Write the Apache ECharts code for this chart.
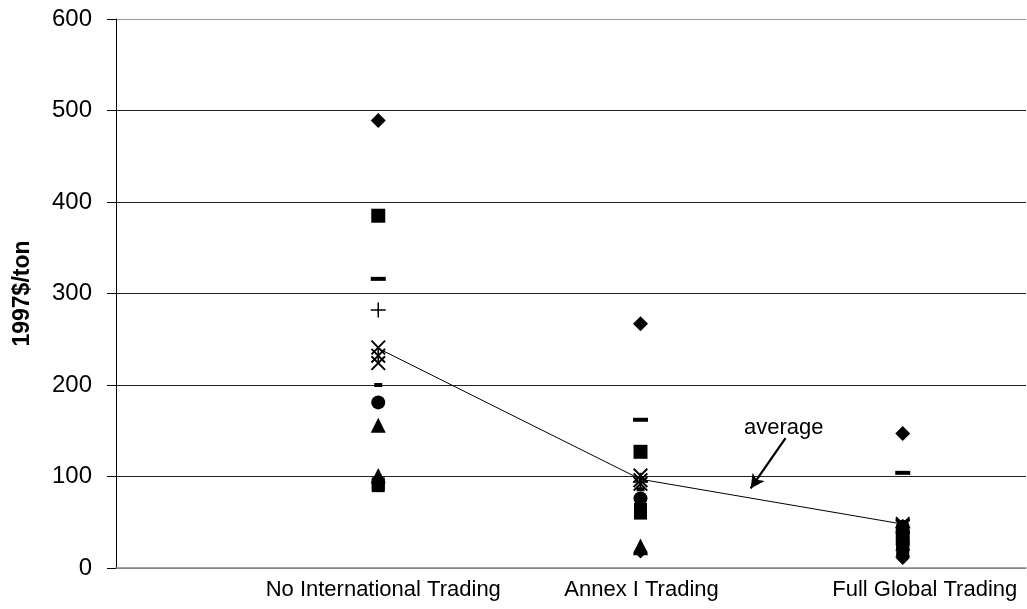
<!DOCTYPE html>
<html>
<head>
<meta charset="utf-8">
<script src="https://cdn.jsdelivr.net/npm/echarts@6/dist/echarts.min.js"></script>
<style>html,body{margin:0;padding:0;background:#fff}#c{width:1027px;height:609px}</style>
</head>
<body>
<div id="c"></div>
<script>
// ---- data ----
const regimes = ['No International Trading', 'Annex I Trading', 'Full Global Trading'];
const regimeX = [1, 2, 3];
const yTicks = [0, 100, 200, 300, 400, 500, 600];
const diamondA = [489, 267, 147];
const squareA = [385, 127, 32];
const dashA = [316, 162, 104];
const plusA = [282, 94, 44];
const crossA = [241, 101, 48];
const starA = [232, 96, 45];
const crossB = [224, 92, 46];
const shortDashA = [200, 86, 40];
const circleA = [181, 76, 45];
const triangleA = [156, 24, 20];
const triangleB = [101, 22, 27];
const squareB = [90, 64, 26];
const squareC = [92, 60, 21];
const diamondB = [92, 18, 11];
const average = [240, 97, 48];
const arrowFrom = [2.553, 142];
const arrowTo = [2.42, 87];
const avgLabelAt = [2.546, 153];

// ---- rendering ----
const FONT = "'Liberation Sans', Arial, sans-serif";
const pts = vals => vals.map((v, i) => [regimeX[i], v]);
const X_PATH = 'path://M0,0.9 L0.9,0 L10,9.1 L9.1,10 Z M9.1,0 L10,0.9 L0.9,10 L0,9.1 Z';
const STAR_PATH = 'path://M0,0.9 L0.9,0 L10,9.1 L9.1,10 Z M9.1,0 L10,0.9 L0.9,10 L0,9.1 Z M4.45,0 H5.55 V10 H4.45 Z';
const PLUS_PATH = 'path://M0,4.5 H10 V5.5 H0 Z M4.5,0 H5.5 V10 H4.5 Z';

function sc(name, vals, symbol, size, z) {
  return { name, type: 'scatter', data: pts(vals), symbol, symbolSize: size,
           itemStyle: { color: '#000', opacity: 1 }, z: z || 3, silent: true, animation: false };
}

const chart = echarts.init(document.getElementById('c'));
chart.setOption({
  animation: false,
  grid: { left: 116, right: 1, top: 19, bottom: 41, containLabel: false, outerBoundsMode: 'none' },
  xAxis: {
    type: 'value', min: 0, max: 3.47, interval: 1,
    axisLine: { show: true, lineStyle: { color: '#888', width: 1.5 } },
    axisTick: { show: false },
    splitLine: { show: false },
    axisLabel: {
      showMaxLabel: false, margin: 11, color: '#000', fontFamily: FONT, fontSize: 22,
      formatter: v => {
        const i = regimeX.indexOf(Math.round(v));
        if (i < 0 || Math.abs(v - regimeX[i]) > 1e-6) return '';
        return '{r' + i + '|' + regimes[i] + '}';
      },
      rich: {
        r0: { fontFamily: FONT, fontSize: 22, color: '#000', padding: [0, 0, 0, 10] },
        r1: { fontFamily: FONT, fontSize: 22, color: '#000', padding: [0, 0, 0, 2] },
        r2: { fontFamily: FONT, fontSize: 22, color: '#000', padding: [0, 0, 0, 44] }
      }
    }
  },
  yAxis: {
    type: 'value', min: yTicks[0], max: yTicks[yTicks.length - 1], interval: 100,
    name: '1997$/ton', nameLocation: 'middle', nameGap: 82,
    nameTextStyle: { fontFamily: FONT, fontSize: 23, fontWeight: 'bold', color: '#000' },
    axisLine: { show: true, lineStyle: { color: '#000', width: 1 } },
    axisTick: { show: true, length: 9, lineStyle: { color: '#000' } },
    axisLabel: { margin: 24, color: '#000', fontFamily: FONT, fontSize: 24 },
    splitLine: { show: true, lineStyle: { color: ['#888', '#222', '#222', '#222', '#222', '#222', '#999'], width: 1 } }
  },
  series: [
    {
      name: 'average', type: 'line', data: pts(average), symbol: 'none',
      lineStyle: { color: '#000', width: 1 }, z: 2, silent: true,
      markLine: {
        silent: true, animation: false,
        lineStyle: { color: '#000', width: 2.2, type: 'solid', opacity: 1 },
        label: { show: false },
        data: [[{ coord: arrowFrom, symbol: 'none' }, { coord: arrowTo, symbol: 'arrow', symbolSize: [11, 14] }]]
      },
      markPoint: {
        silent: true, animation: false,
        data: [{ coord: avgLabelAt, symbol: 'circle', symbolSize: 1,
                 itemStyle: { color: 'rgba(0,0,0,0)' },
                 label: { show: true, position: 'inside', formatter: 'average',
                          fontFamily: FONT, fontSize: 22, color: '#000' } }]
      }
    },
    sc('diamondB', diamondB, 'diamond', 14),
    sc('squareC', squareC, 'rect', 13),
    sc('squareB', squareB, 'rect', 13),
    sc('triangleB', triangleB, 'triangle', 15),
    sc('triangleA', triangleA, 'triangle', 15),
    sc('circleA', circleA, 'circle', 14),
    sc('shortDashA', shortDashA, 'rect', [8, 4]),
    sc('crossB', crossB, X_PATH, 15),
    sc('starA', starA, STAR_PATH, 15),
    sc('crossA', crossA, X_PATH, 15),
    sc('plusA', plusA, PLUS_PATH, 15),
    sc('dashA', dashA, 'rect', [15, 4]),
    sc('squareA', squareA, 'rect', 14),
    sc('diamondA', diamondA, 'diamond', 15)
  ]
});
</script>
</body>
</html>
